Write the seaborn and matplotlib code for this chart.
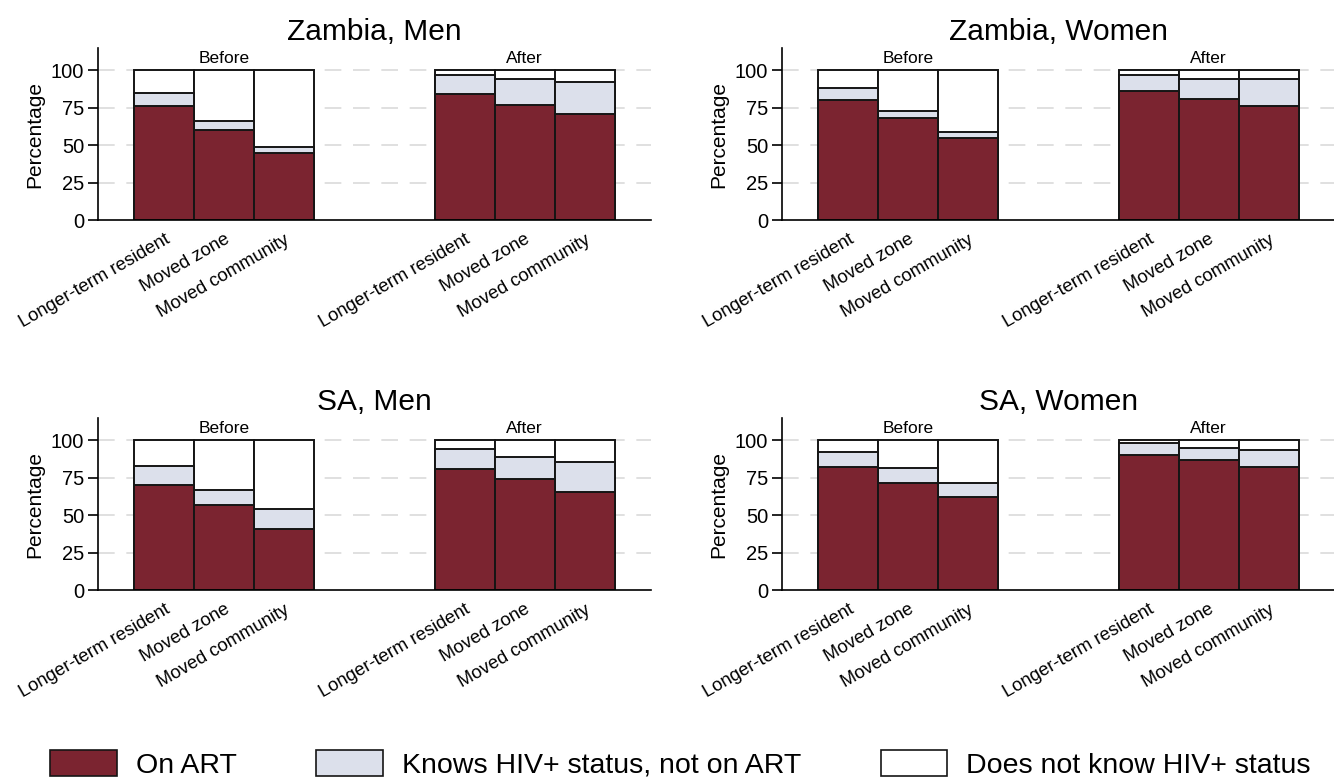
import numpy as np
import pandas as pd
import matplotlib
matplotlib.use("Agg")
import matplotlib.pyplot as plt
from matplotlib.patches import Patch
import seaborn as sns

# Care-cascade shares (%) by residence status, before and after
groups = ["Longer-term resident", "Moved zone", "Moved community"]
periods = ["Before", "After"]
panels = ["Zambia, Men", "Zambia, Women", "SA, Men", "SA, Women"]

# On ART, then "knows HIV+ status, not on ART"; the rest of 100% is "does not know"
zambia_men_on_art = [76, 60, 45, 84, 77, 71]
zambia_men_knows = [9, 6.5, 4, 13, 17, 21.5]
zambia_women_on_art = [80, 68, 55, 86.5, 81, 76.5]
zambia_women_knows = [8, 5, 4, 10.5, 13.5, 17.5]
sa_men_on_art = [70, 57, 40.5, 81, 74, 65.5]
sa_men_knows = [13, 10, 13.5, 13, 15, 20]
sa_women_on_art = [82, 71.5, 62.5, 90, 87, 82]
sa_women_knows = [10, 10, 9, 8, 8, 11.5]

on_art = [zambia_men_on_art, zambia_women_on_art, sa_men_on_art, sa_women_on_art]
knows = [zambia_men_knows, zambia_women_knows, sa_men_knows, sa_women_knows]

legend_labels = ["On ART", "Knows HIV+ status, not on ART", "Does not know HIV+ status"]
c_art = "#7B2430"
c_knows = "#DCE0EB"
c_unknown = "#FFFFFF"

rows = []
for p, name in enumerate(panels):
    for k in range(len(periods) * len(groups)):
        pi, gi = divmod(k, len(groups))
        rows.append({
            "panel": name,
            "period": periods[pi],
            "group": groups[gi],
            "pos": gi + pi * (len(groups) + 2),
            "on_art": on_art[p][k],
            "knows": knows[p][k],
        })
df = pd.DataFrame(rows)
df["tested"] = df["on_art"] + df["knows"]
df["total"] = 100.0

sns.set_theme(style="white")
plt.rcParams["font.family"] = ["Liberation Sans", "DejaVu Sans"]
plt.rcParams.update({
    "text.color": "black",
    "axes.labelcolor": "black",
    "xtick.color": "black",
    "ytick.color": "black",
})

fig = plt.figure(figsize=(13.34, 7.78), dpi=100)
W, H = 1334, 778
boxes = [
    (98, 48, 651, 220),
    (782, 48, 1335, 220),
    (98, 418, 651, 590),
    (782, 418, 1335, 590),
]

edge = "#151515"
for name, (x0, y0, x1, y1) in zip(panels, boxes):
    ax = fig.add_axes([x0 / W, 1 - y1 / H, (x1 - x0) / W, (y1 - y0) / H])
    sub = df[df["panel"] == name]
    for col, color in [("total", c_unknown), ("tested", c_knows), ("on_art", c_art)]:
        sns.barplot(data=sub, x="pos", y=col, native_scale=True, color=color,
                    saturation=1, width=1, edgecolor=edge, linewidth=1.4,
                    errorbar=None, ax=ax)
    ax.set_xlim(-1.1, 8.1)
    ax.set_ylim(0, 115)
    ax.set_yticks([0, 25, 50, 75, 100])
    ax.set_yticklabels(["0", "25", "50", "75", "100"], fontsize=14.5)
    ax.set_xticks(sub["pos"].tolist())
    ax.set_xticklabels(sub["group"].tolist(), rotation=30, ha="right",
                       rotation_mode="anchor", fontsize=13.2)
    ax.tick_params(axis="x", length=0, pad=8)
    ax.tick_params(axis="y", length=7, width=1.2, color="black", pad=3, left=True)
    ax.set_xlabel("")
    ax.set_ylabel("Percentage", fontsize=15, labelpad=5)
    ax.set_title(name, fontsize=21.5, pad=6)
    for s in ["top", "right"]:
        ax.spines[s].set_visible(False)
    for s in ["left", "bottom"]:
        ax.spines[s].set_color("black")
        ax.spines[s].set_linewidth(1.2)
    for yv in [25, 50, 75, 100]:
        ax.axhline(yv, color="#DADADA", lw=1.2, ls=(0, (10, 7)), zorder=0)
    ax.set_axisbelow(True)
    for pi, per in enumerate(periods):
        centre = sub.loc[sub["period"] == per, "pos"].mean()
        ax.text(centre, 103, per, ha="center", va="bottom", fontsize=12.5)

handles = [Patch(facecolor=c, edgecolor=edge, linewidth=1.2)
           for c in (c_art, c_knows, c_unknown)]
fig.legend(handles, legend_labels, loc="lower center", bbox_to_anchor=(0.51, -0.034),
           ncol=3, frameon=False, fontsize=20.5, handlelength=2.35, handleheight=1.0,
           handletextpad=0.65, columnspacing=2.8)

fig.savefig("out.png", dpi=100)
